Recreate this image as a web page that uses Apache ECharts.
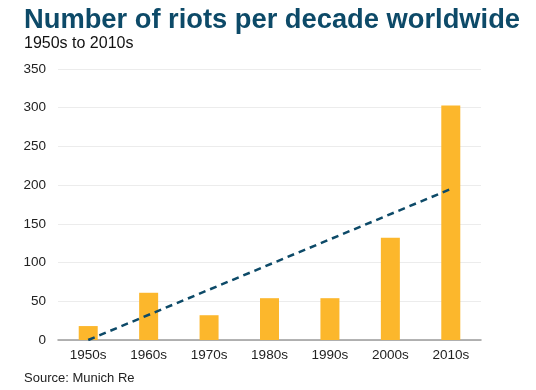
<!DOCTYPE html>
<html><head><meta charset="utf-8">
<script src="https://cdn.jsdelivr.net/npm/echarts@6/dist/echarts.min.js"></script>
<style>html,body{margin:0;padding:0;background:#fff}#c{width:536px;height:390px}</style>
</head><body><div id="c"></div>
<script>
const categories = ['1950s','1960s','1970s','1980s','1990s','2000s','2010s'];
const riots = [18, 61, 32, 54, 54, 132, 303];
const trend = [0, null, null, null, null, null, 195];
const yTicks = [0, 50, 100, 150, 200, 250, 300, 350];

const chart = echarts.init(document.getElementById('c'));
chart.setOption({
  animation: false,
  title: [
    {text: 'Number of riots per decade worldwide', left: 19, top: 2,
     textStyle: {fontFamily: 'Liberation Sans, Arial', fontWeight: 'bold', fontSize: 27.3, color: '#0d4a68'}},
    {text: '1950s to 2010s', left: 19, top: 31,
     textStyle: {fontFamily: 'Liberation Sans, Arial', fontWeight: 'normal', fontSize: 16, color: '#111'}},
    {text: 'Source: Munich Re', left: 19, top: 367,
     textStyle: {fontFamily: 'Liberation Sans, Arial', fontWeight: 'normal', fontSize: 13, color: '#222'}}
  ],
  grid: {left: 58, right: 55, top: 69, bottom: 50},
  xAxis: {
    type: 'category', data: categories,
    axisTick: {show: false},
    axisLine: {lineStyle: {color: '#9a9a9a', width: 1.5}},
    axisLabel: {fontFamily: 'Liberation Sans, Arial', fontSize: 13.5, color: '#222', margin: 8}
  },
  yAxis: {
    type: 'value', min: yTicks[0], max: yTicks[yTicks.length-1], interval: 50,
    axisLine: {show: false}, axisTick: {show: false},
    splitLine: {lineStyle: {color: '#ececec'}},
    axisLabel: {fontFamily: 'Liberation Sans, Arial', fontSize: 13.5, color: '#222', margin: 12}
  },
  series: [
    {type: 'bar', data: riots, barWidth: 19, itemStyle: {color: '#fcb72c'}},
    {type: 'line', data: trend, connectNulls: true, symbol: 'none',
     lineStyle: {color: '#0d4a68', width: 2.5, type: [7, 5]}}
  ]
});
</script></body></html>
